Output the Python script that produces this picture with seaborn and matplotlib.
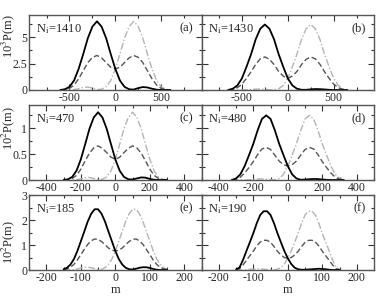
import numpy as np
import pandas as pd
import matplotlib
matplotlib.use("Agg")
import matplotlib.pyplot as plt
import seaborn as sns
from matplotlib.ticker import MultipleLocator, FuncFormatter

sns.set_theme(style="ticks")
plt.rcParams['font.family'] = ['Liberation Serif', 'DejaVu Serif']
plt.rcParams['mathtext.fontset'] = 'stix'
plt.rcParams['axes.unicode_minus'] = False

# ---- data (P in units of 10^-3 for row 1, 10^-2 for rows 2-3)
m_a = [-600, -550, -500, -450, -400, -350, -300, -250, -200, -150, -100, -50, 0,
       50, 100, 150, 200, 250, 300, 350, 400, 450, 500, 550, 600]
solid_a = [0, 0.07, 0.3, 0.9, 2.0, 3.4, 4.9, 6.0, 6.5, 6.0, 4.9, 3.4, 2.0,
           0.9, 0.3, 0.07, 0.04, 0.18, 0.28, 0.24, 0.12, 0.03, 0, 0, 0]
dash_a = [0, 0.035, 0.15, 0.47, 1.06, 1.82, 2.59, 3.09, 3.27, 3.04, 2.6, 2.15, 2.0,
          2.15, 2.6, 3.04, 3.27, 3.09, 2.59, 1.82, 1.06, 0.47, 0.15, 0.035, 0]
dot_a = [0, 0, 0, 0.03, 0.12, 0.24, 0.28, 0.18, 0.04, 0.07, 0.3, 0.9, 2.0,
         3.4, 4.9, 6.0, 6.5, 6.0, 4.9, 3.4, 2.0, 0.9, 0.3, 0.07, 0]

m_b = [-650, -600, -550, -500, -450, -400, -350, -300, -250, -200, -150, -100, -50, 0,
       50, 100, 150, 200, 250, 300, 350, 400, 450, 500, 550, 600, 650]
solid_b = [0, 0.12, 0.43, 1.1, 2.2, 3.4, 4.8, 5.8, 6.2, 5.8, 4.8, 3.4, 2.2, 1.1,
           0.43, 0.12, 0.02, 0.02, 0.06, 0.09, 0.08, 0.05, 0.02, 0, 0, 0, 0]
dash_b = [0, 0.06, 0.22, 0.55, 1.11, 1.73, 2.44, 2.95, 3.13, 2.91, 2.41, 1.76, 1.32, 1.1,
          1.32, 1.76, 2.41, 2.91, 3.13, 2.95, 2.44, 1.73, 1.11, 0.55, 0.22, 0.06, 0]
dot_b = [0, 0, 0, 0, 0.02, 0.05, 0.08, 0.09, 0.06, 0.02, 0.02, 0.12, 0.43, 1.1,
         2.2, 3.4, 4.8, 5.8, 6.2, 5.8, 4.8, 3.4, 2.2, 1.1, 0.43, 0.12, 0]

m_c = [-300, -275, -250, -225, -200, -175, -150, -125, -100, -75, -50, -25, 0,
       25, 50, 75, 100, 125, 150, 175, 200, 225, 250, 275, 300]
solid_c = [0, 0.014, 0.06, 0.18, 0.40, 0.69, 0.99, 1.21, 1.31, 1.21, 0.99, 0.69, 0.40,
           0.18, 0.06, 0.014, 0.01, 0.03, 0.05, 0.045, 0.02, 0.005, 0, 0, 0]
dash_c = [0, 0.007, 0.03, 0.09, 0.21, 0.37, 0.52, 0.62, 0.66, 0.61, 0.53, 0.44, 0.40,
          0.44, 0.53, 0.61, 0.66, 0.62, 0.52, 0.37, 0.21, 0.09, 0.03, 0.007, 0]
dot_c = [0, 0, 0, 0.005, 0.02, 0.045, 0.05, 0.03, 0.01, 0.014, 0.06, 0.18, 0.40,
         0.69, 0.99, 1.21, 1.31, 1.21, 0.99, 0.69, 0.40, 0.18, 0.06, 0.014, 0]

m_d = [-325, -300, -275, -250, -225, -200, -175, -150, -125, -100, -75, -50, -25, 0,
       25, 50, 75, 100, 125, 150, 175, 200, 225, 250, 275, 300, 325]
solid_d = [0, 0.03, 0.11, 0.27, 0.48, 0.70, 0.96, 1.18, 1.25, 1.18, 0.96, 0.70, 0.48, 0.27,
           0.11, 0.03, 0.005, 0.008, 0.015, 0.02, 0.018, 0.01, 0.003, 0, 0, 0, 0]
dash_d = [0, 0.015, 0.055, 0.135, 0.24, 0.355, 0.49, 0.6, 0.63, 0.59, 0.48, 0.365, 0.295, 0.27,
          0.295, 0.365, 0.48, 0.59, 0.63, 0.6, 0.49, 0.355, 0.24, 0.135, 0.055, 0.015, 0]
dot_d = [0, 0, 0, 0, 0.003, 0.01, 0.018, 0.02, 0.015, 0.008, 0.005, 0.03, 0.11, 0.27,
         0.48, 0.70, 0.96, 1.18, 1.25, 1.18, 0.96, 0.70, 0.48, 0.27, 0.11, 0.03, 0]

m_e = [-150, -140, -130, -120, -110, -100, -90, -80, -70, -60, -50, -40, -30, -20, -10, 0,
       10, 20, 30, 40, 50, 60, 70, 80, 90, 100, 110, 120, 130, 140, 150]
solid_e = [0.03, 0.09, 0.22, 0.44, 0.76, 1.15, 1.54, 1.94, 2.25, 2.43, 2.43, 2.25, 1.94, 1.54, 1.15, 0.76,
           0.44, 0.22, 0.09, 0.03, 0.02, 0.05, 0.09, 0.11, 0.11, 0.08, 0.04, 0.01, 0, 0, 0]
dash_e = [0.015, 0.045, 0.11, 0.225, 0.4, 0.615, 0.825, 1.025, 1.17, 1.24, 1.225, 1.14, 1.015, 0.88, 0.795, 0.76,
          0.795, 0.88, 1.015, 1.14, 1.225, 1.24, 1.17, 1.025, 0.825, 0.615, 0.4, 0.225, 0.11, 0.045, 0.015]
dot_e = [0, 0, 0, 0.01, 0.04, 0.08, 0.11, 0.11, 0.09, 0.05, 0.02, 0.03, 0.09, 0.22, 0.44, 0.76,
         1.15, 1.54, 1.94, 2.25, 2.43, 2.43, 2.25, 1.94, 1.54, 1.15, 0.76, 0.44, 0.22, 0.09, 0.03]

m_f = m_e
solid_f = [0.02, 0.1, 0.4, 0.76, 1.11, 1.47, 1.87, 2.2, 2.35, 2.35, 2.2, 1.87, 1.47, 1.11, 0.76, 0.47,
           0.24, 0.09, 0.03, 0.01, 0.01, 0.02, 0.03, 0.04, 0.05, 0.04, 0.03, 0.01, 0, 0, 0]
dash_f = [0.01, 0.05, 0.2, 0.385, 0.57, 0.755, 0.96, 1.12, 1.19, 1.185, 1.105, 0.94, 0.75, 0.6, 0.5, 0.47,
          0.5, 0.6, 0.75, 0.94, 1.105, 1.185, 1.19, 1.12, 0.96, 0.755, 0.57, 0.385, 0.2, 0.05, 0.01]
dot_f = [0, 0, 0, 0.01, 0.03, 0.04, 0.05, 0.04, 0.03, 0.02, 0.01, 0.01, 0.03, 0.09, 0.24, 0.47,
         0.76, 1.11, 1.47, 1.87, 2.2, 2.35, 2.35, 2.2, 1.87, 1.47, 1.11, 0.76, 0.4, 0.1, 0.02]

panels = [
    ('a', 1410, m_a, solid_a, dash_a, dot_a),
    ('b', 1430, m_b, solid_b, dash_b, dot_b),
    ('c', 470, m_c, solid_c, dash_c, dot_c),
    ('d', 480, m_d, solid_d, dash_d, dot_d),
    ('e', 185, m_e, solid_e, dash_e, dot_e),
    ('f', 190, m_f, solid_f, dash_f, dot_f),
]

# per-row axis settings
row_xlim = [940, 500, 250]
row_xmaj = [500, 200, 100]
row_ylim = [7.1, 1.45, 3.0]
row_ymaj = [2.5, 0.5, 1.0]
row_ylabel = [r'10$^3$P(m)', r'10$^2$P(m)', r'10$^2$P(m)']
row_ylabel_y = [0.72, 0.70, 0.38]

fig, axes = plt.subplots(3, 2, figsize=(3.88, 3.0), dpi=100)
fig.subplots_adjust(left=0.075, right=0.964, top=0.95, bottom=0.10, wspace=0, hspace=0.2)

fmt = FuncFormatter(lambda v, p: '%g' % v)

for k, (tag, ni, m, p_solid, p_dash, p_dot) in enumerate(panels):
    row, col = divmod(k, 2)
    ax = axes[row, col]
    df = pd.DataFrame({'m': m, 'solid': p_solid, 'dash': p_dash, 'dot': p_dot})

    sns.lineplot(data=df, x='m', y='dot', ax=ax, color='#b4b4b4', lw=1.0,
                 linestyle=(0, (5, 1.5, 1, 1.5)))
    sns.lineplot(data=df, x='m', y='dash', ax=ax, color='#555555', lw=1.0,
                 linestyle=(0, (4, 2)))
    sns.lineplot(data=df, x='m', y='solid', ax=ax, color='black', lw=1.3)

    ax.set_xlim(-row_xlim[row], row_xlim[row])
    ax.set_ylim(0, row_ylim[row])
    ax.xaxis.set_major_locator(MultipleLocator(row_xmaj[row]))
    ax.xaxis.set_minor_locator(MultipleLocator(row_xmaj[row] / 2))
    ax.yaxis.set_major_locator(MultipleLocator(row_ymaj[row]))
    ax.yaxis.set_minor_locator(MultipleLocator(row_ymaj[row] / 2))
    ax.xaxis.set_major_formatter(fmt)
    ax.yaxis.set_major_formatter(fmt)
    ax.tick_params(which='both', direction='in', top=True, right=True,
                   labelsize=8.5, pad=1.5, width=0.8, color='#333333')
    ax.tick_params(which='major', length=4)
    ax.tick_params(which='minor', length=2.5)
    for s in ax.spines.values():
        s.set_linewidth(1.0)
        s.set_color('#555555')

    if col == 0:
        ax.set_ylabel(row_ylabel[row], fontsize=9)
        ax.yaxis.set_label_coords(-0.07, row_ylabel_y[row])
    else:
        ax.set_ylabel('')
        ax.tick_params(labelleft=False)
    if row == 2:
        ax.set_xlabel('m', fontsize=9, labelpad=0)
    else:
        ax.set_xlabel('')

    ax.text(0.04, 0.9, r'N$_{\rm i}$=%d' % ni, transform=ax.transAxes,
            fontsize=9, ha='left', va='top')
    ax.text(0.95, 0.9, '(%s)' % tag, transform=ax.transAxes,
            fontsize=9, ha='right', va='top')

plt.savefig('out.png', dpi=100)
